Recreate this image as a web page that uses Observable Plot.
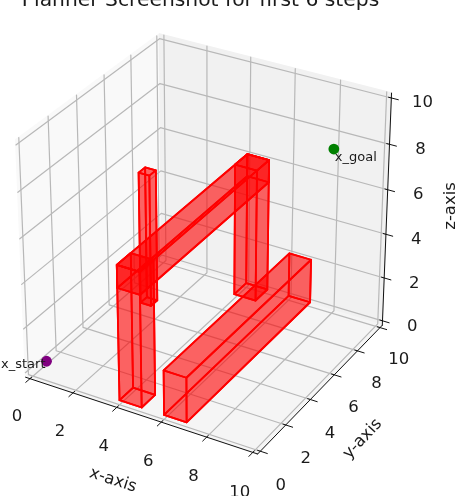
<!DOCTYPE html>
<html>
<head>
<meta charset="utf-8">
<script src="https://cdn.jsdelivr.net/npm/d3@7"></script>
<script src="https://cdn.jsdelivr.net/npm/@observablehq/plot@0.6"></script>
<style>
html,body{margin:0;padding:0;background:#fff;overflow:hidden}
svg{display:block;filter:blur(0.5px)}
</style>
</head>
<body>
<div id="chart"></div>
<script>
const titleText = "Planner Screenshot for first 6 steps";
const ticks = [0, 2, 4, 6, 8, 10];
const pillarFront = [4, 5, 0, 1, 0, 6];
const beamFloor = [6, 7, 0, 10, 0, 2];
const beamTop = [4, 5, 0, 10, 5, 6];
const pillarBack = [4, 5, 9, 10, 0, 6];
const pillarThin = [1, 1.5, 6.5, 7, 0, 6];
const boxes = [pillarThin, pillarBack, beamTop, pillarFront, beamFloor];
const start = [0.5, 0.25, 0.5];
const goal = [8.4, 9, 7.87];

// matplotlib mplot3d view: elev 30, azim -60, dist 10
const U = [0.8660254, 0.5, 0];
const V = [-0.25, 0.4330127, 0.8660254];
const W = [0.4330127, -0.75, 0.5];
const dot3 = (a, b) => a[0]*b[0] + a[1]*b[1] + a[2]*b[2];
function proj(p) {
  const q = p.map(v => v/10 - 0.5);
  const d = 10 - dot3(W, q);
  return {x: dot3(U, q)/d, y: dot3(V, q)/d};
}
const path = (pts, key, extra) => pts.map(p => ({...proj(p), key, ...extra}));

const lo = -0.208, hi = 10.208;
const panes = [
  {c: "#f9f9f9", pts: [[lo,lo,lo],[lo,hi,lo],[lo,hi,hi],[lo,lo,hi]]},
  {c: "#f1f1f1", pts: [[lo,hi,lo],[hi,hi,lo],[hi,hi,hi],[lo,hi,hi]]},
  {c: "#f5f5f5", pts: [[lo,lo,lo],[hi,lo,lo],[hi,hi,lo],[lo,hi,lo]]}
].flatMap((f, i) => path(f.pts, i, {c: f.c}));

const grid = ticks.flatMap(t => [
  path([[t,lo,lo],[t,hi,lo],[t,hi,hi]], "x"+t),
  path([[lo,t,hi],[lo,t,lo],[hi,t,lo]], "y"+t),
  path([[lo,lo,t],[lo,hi,t],[hi,hi,t]], "z"+t)
]).flat();

const axes = [
  path([[lo,lo,lo],[hi,lo,lo]], "ax"),
  path([[hi,lo,lo],[hi,hi,lo]], "ay"),
  path([[hi,hi,lo],[hi,hi,hi]], "az")
].flat();
const tickMarks = ticks.flatMap(t => [
  path([[t,lo+0.12,lo],[t,lo-0.3,lo]], "tx"+t),
  path([[hi-0.12,t,lo],[hi+0.3,t,lo]], "ty"+t),
  path([[hi-0.12,hi,t],[hi+0.3,hi,t]], "tz"+t)
]).flat();

const faces = boxes.flatMap((b, i) => {
  const [x0,x1,y0,y1,z0,z1] = b;
  const f = [
    [[x0,y0,z0],[x1,y0,z0],[x1,y1,z0],[x0,y1,z0]],
    [[x0,y0,z1],[x1,y0,z1],[x1,y1,z1],[x0,y1,z1]],
    [[x0,y0,z0],[x1,y0,z0],[x1,y0,z1],[x0,y0,z1]],
    [[x0,y1,z0],[x1,y1,z0],[x1,y1,z1],[x0,y1,z1]],
    [[x0,y0,z0],[x0,y1,z0],[x0,y1,z1],[x0,y0,z1]],
    [[x1,y0,z0],[x1,y1,z0],[x1,y1,z1],[x1,y0,z1]]
  ];
  return f.flatMap((pts, j) => path(pts, i+"-"+j));
});

const tickLabels = ticks.flatMap(t => [
  {...proj([t,-1.2,-1.38]), t},
  {...proj([11.1,t,-1.42]), t},
  {...proj([11.4,10.5,t]), t}
]);
const axisLabels = [
  {...proj([5.1,-2.3,-1.88]), s:"x-axis"},
  {...proj([12,5,-1.98]), s:"y-axis"},
  {...proj([12.15,11.9,5]), s:"z-axis"}
];

const W0 = 458, H0 = 496, sx = 2572, bx = 206.3, sy = 2600, by = 236;
const font = {fontFamily: "DejaVu Sans", fill: "#1a1a1a"};

const chart = Plot.plot({
  width: W0, height: H0, margin: 0,
  x: {domain: [(0-bx)/sx, (W0-bx)/sx], range: [0, W0], axis: null},
  y: {domain: [(by-H0)/sy, by/sy], range: [H0, 0], axis: null},
  style: {background: "#fff", overflow: "hidden"},
  marks: [
    Plot.line(panes, {x:"x", y:"y", z:"key", fill:"c", stroke:"c", curve:"linear-closed"}),
    Plot.line(grid, {x:"x", y:"y", z:"key", stroke:"#b8b8b8", strokeWidth:1.2}),
    Plot.line(axes, {x:"x", y:"y", z:"key", stroke:"#111", strokeWidth:1}),
    Plot.line(tickMarks, {x:"x", y:"y", z:"key", stroke:"#111", strokeWidth:1}),
    Plot.line(faces, {x:"x", y:"y", z:"key", fill:"#ff0000", fillOpacity:0.37, stroke:"#ff0000", strokeWidth:1.8, curve:"linear-closed"}),
    Plot.dot([proj(start)], {x:"x", y:"y", r:5.4, fill:"purple"}),
    Plot.dot([proj(goal)], {x:"x", y:"y", r:5.4, fill:"green"}),
    Plot.text([{...proj(start), s:"x_start"}], {x:"x", y:"y", text:"s", textAnchor:"end", dx:-1, dy:3, fontSize:13, ...font}),
    Plot.text([{...proj(goal), s:"x_goal"}], {x:"x", y:"y", text:"s", textAnchor:"start", dx:1, dy:8, fontSize:13, ...font}),
    Plot.text(tickLabels, {x:"x", y:"y", text:"t", fontSize:16.5, ...font}),
    Plot.text(axisLabels.slice(0,1), {x:"x", y:"y", text:"s", rotate:18, fontSize:16.5, ...font}),
    Plot.text(axisLabels.slice(1,2), {x:"x", y:"y", text:"s", rotate:-47, fontSize:16.5, ...font}),
    Plot.text(axisLabels.slice(2,3), {x:"x", y:"y", text:"s", rotate:-90, fontSize:16.5, ...font}),
    Plot.text([titleText], {frameAnchor:"top", dx:-29, dy:5, lineAnchor:"bottom", fontSize:20.3, ...font})
  ]
});
document.getElementById("chart").appendChild(chart);
</script>
</body>
</html>
